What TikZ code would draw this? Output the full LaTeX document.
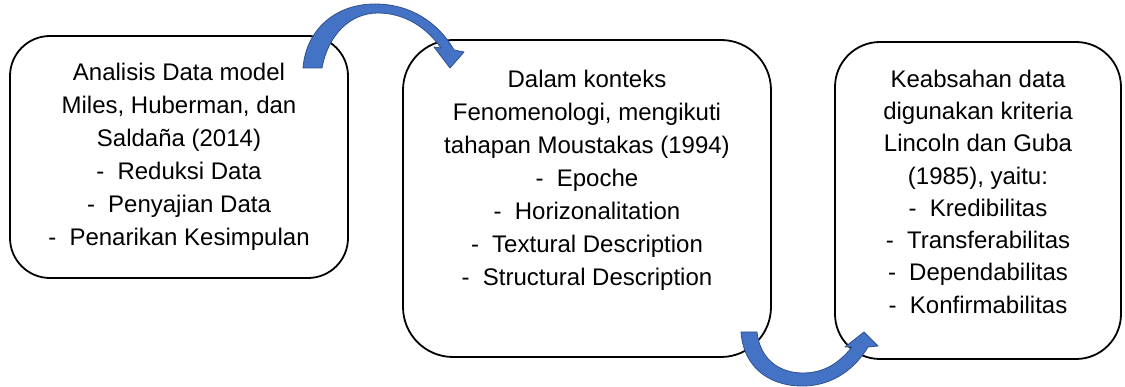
\documentclass[tikz,border=0pt]{standalone}
\usepackage{fontspec}
\setmainfont{Liberation Sans}
\usetikzlibrary{calc}
\definecolor{arrowfill}{RGB}{68,114,196}
\definecolor{arrowline}{RGB}{47,82,143}
\begin{document}
\begin{tikzpicture}[x=1pt,y=-1pt,
  box/.style={draw=black, line width=1.8pt, fill=white, rounded corners=#1, inner sep=0pt, rectangle},
  txt/.style={align=center, font=\fontsize{24}{33}\selectfont, inner sep=0pt, anchor=north},
  curvedarrow/.style={fill=arrowfill, draw=arrowline, line width=0.8pt, line join=round}]
\useasboundingbox (0,0) rectangle (1125,387);
% boxes
\node[box=40pt, minimum width=338pt, minimum height=242pt] (b1) at (179,157) {};
\node[box=50pt, minimum width=368pt, minimum height=317pt] (b2) at (587,198.5) {};
\node[box=45pt, minimum width=286pt, minimum height=317pt] (b3) at (978,200.5) {};
% texts
\node[txt] (t1) at ($(b1.north)+(0,27.5)$) {Analisis Data model\\Miles, Huberman, dan\\Saldaña (2014)\\-\hspace{0.55em}Reduksi Data\\-\hspace{0.55em}Penyajian Data\\-\hspace{0.55em}Penarikan Kesimpulan};
\node[txt] (t2) at ($(b2.north)+(0,30.5)$) {Dalam konteks\\Fenomenologi, mengikuti\\tahapan Moustakas (1994)\\-\hspace{0.55em}Epoche\\-\hspace{0.55em}Horizonalitation\\-\hspace{0.55em}Textural Description\\-\hspace{0.55em}Structural Description};
\node[txt, font=\fontsize{24}{32.3}\selectfont] (t3) at ($(b3.north)+(0,28.5)$) {Keabsahan data\\digunakan kriteria\\Lincoln dan Guba\\(1985), yaitu:\\-\hspace{0.55em}Kredibilitas\\-\hspace{0.55em}Transferabilitas\\-\hspace{0.55em}Dependabilitas\\-\hspace{0.55em}Konfirmabilitas};
% curved arrows
\path[curvedarrow] (303,68) .. controls (306,30) and (335,4) .. (375,4)
  .. controls (410,4) and (438,22) .. (454,50)
  -- (464,52) -- (450,68) -- (434,47) -- (441,48)
  .. controls (427,28) and (405,13) .. (378,13)
  .. controls (350,13) and (328,35) .. (322,68) -- cycle;
\path[curvedarrow] (741,332) .. controls (744,372) and (775,387) .. (805,386)
  .. controls (835,385) and (856,367) .. (868,347)
  -- (878,346) -- (864,332) -- (845,347) -- (852,347)
  .. controls (840,362) and (825,373) .. (803,373)
  .. controls (780,373) and (760,360) .. (757,332) -- cycle;
\end{tikzpicture}
\end{document}
